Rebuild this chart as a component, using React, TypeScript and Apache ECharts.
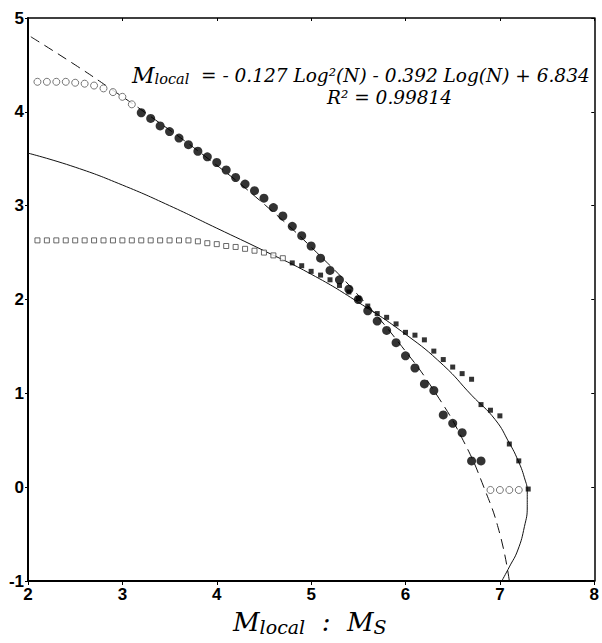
import React, { useEffect, useRef } from 'react';
import * as echarts from 'echarts';

// Filled circles (fitted data)
const filledCircles: [number, number][] = [
  [3.2, 3.99], [3.3, 3.93], [3.4, 3.85], [3.5, 3.79], [3.6, 3.72], [3.7, 3.65],
  [3.8, 3.58], [3.9, 3.52], [4.0, 3.46], [4.1, 3.38], [4.2, 3.30], [4.3, 3.23],
  [4.4, 3.16], [4.5, 3.08], [4.6, 2.98], [4.7, 2.89], [4.8, 2.78], [4.9, 2.68],
  [5.0, 2.57], [5.1, 2.44], [5.2, 2.31], [5.3, 2.21], [5.4, 2.11], [5.5, 2.00],
  [5.6, 1.88], [5.7, 1.77], [5.8, 1.67], [5.9, 1.54], [6.0, 1.40], [6.1, 1.27],
  [6.2, 1.10], [6.3, 1.03], [6.4, 0.77], [6.5, 0.68], [6.6, 0.58], [6.7, 0.28],
  [6.8, 0.28],
];

// Open circles, upper left
const upperOpenCircles: [number, number][] = [
  [2.1, 4.32], [2.2, 4.32], [2.3, 4.32], [2.4, 4.32], [2.5, 4.31], [2.6, 4.30],
  [2.7, 4.28], [2.8, 4.25], [2.9, 4.21], [3.0, 4.16], [3.1, 4.08],
];

// Open squares, lower plateau
const lowerOpenSquares: [number, number][] = [
  [2.1, 2.63], [2.2, 2.63], [2.3, 2.63], [2.4, 2.63], [2.5, 2.63], [2.6, 2.63],
  [2.7, 2.63], [2.8, 2.63], [2.9, 2.63], [3.0, 2.63], [3.1, 2.63], [3.2, 2.63],
  [3.3, 2.63], [3.4, 2.63], [3.5, 2.63], [3.6, 2.63], [3.7, 2.63], [3.8, 2.62],
  [3.9, 2.60], [4.0, 2.59], [4.1, 2.57], [4.2, 2.56], [4.3, 2.54], [4.4, 2.52],
  [4.5, 2.50], [4.6, 2.47], [4.7, 2.44],
];

// Small filled squares
const smallSquares: [number, number][] = [
  [4.8, 2.39], [4.9, 2.36], [5.0, 2.30], [5.1, 2.26], [5.2, 2.21], [5.3, 2.15],
  [5.4, 2.08], [5.5, 2.01], [5.6, 1.93], [5.7, 1.85], [5.8, 1.81], [5.9, 1.74],
  [6.0, 1.65], [6.1, 1.62], [6.2, 1.57], [6.3, 1.45], [6.4, 1.36], [6.5, 1.28],
  [6.6, 1.21], [6.7, 1.15], [6.8, 0.88], [6.9, 0.82], [7.0, 0.76], [7.1, 0.46],
  [7.2, 0.28], [7.3, -0.02],
];

// Open circles, lower right
const lowerOpenCircles: [number, number][] = [
  [6.9, -0.03], [7.0, -0.03], [7.1, -0.03], [7.2, -0.03],
];

// Fit curve: M = -0.127 L^2 - 0.392 L + 6.834
const fitCurveA: [number, number][] = [
  [2.03, 4.8], [2.50, 4.5], [2.87, 4.25], [3.23, 4.0], [3.91, 3.5], [4.52, 3.0],
  [5.06, 2.5], [5.54, 2.0], [5.96, 1.5], [6.32, 1.0], [6.61, 0.5], [6.83, 0.0],
  [7.00, -0.5], [7.10, -1.0],
];

// Second curve through the small squares
const fitCurveB: [number, number][] = [
  [2.0, 3.56], [2.5, 3.41], [3.0, 3.22], [3.5, 3.00], [4.0, 2.76], [4.5, 2.52],
  [5.0, 2.27], [5.5, 1.97], [6.0, 1.63], [6.4, 1.30], [6.7, 0.98], [6.95, 0.72],
  [7.1, 0.47], [7.19, 0.29], [7.26, 0.10], [7.29, -0.05], [7.29, -0.21],
  [7.26, -0.42], [7.19, -0.67], [7.10, -0.85], [7.02, -1.0],
];

const xRange = [2, 8];
const yRange = [-1, 5];

const serif = 'DejaVu Serif';
const sans = 'Liberation Sans';

export default function App() {
  const ref = useRef<HTMLDivElement>(null);

  useEffect(() => {
    if (!ref.current) return;
    const chart = echarts.init(ref.current, undefined, { renderer: 'svg' });

    const tickLabel = {
      color: '#000',
      fontFamily: sans,
      fontWeight: 'bold',
      fontSize: 17,
    };

    const eqBase = { fontFamily: serif, fontStyle: 'italic', fill: '#000' };

    const option: any = {
      animation: false,
      backgroundColor: '#fff',
      grid: { left: 28, right: 5, top: 18, bottom: 62, show: false },
      xAxis: [
        {
          type: 'value', min: xRange[0], max: xRange[1], interval: 1, position: 'bottom',
          axisLine: { show: true, onZero: false, lineStyle: { color: '#000', width: 2 } },
          axisTick: { show: true, inside: false, length: 4, lineStyle: { color: '#000', width: 1 } },
          axisLabel: { ...tickLabel, margin: 5 },
          splitLine: { show: false },
        },
        {
          type: 'value', min: xRange[0], max: xRange[1], interval: 1, position: 'top',
          axisLine: { show: true, onZero: false, lineStyle: { color: '#000', width: 1.5 } },
          axisTick: { show: true, inside: true, length: 3, lineStyle: { color: '#000', width: 1 } },
          axisLabel: { show: false },
          splitLine: { show: false },
        },
      ],
      yAxis: [
        {
          type: 'value', min: yRange[0], max: yRange[1], interval: 1, position: 'left',
          axisLine: { show: true, onZero: false, lineStyle: { color: '#000', width: 2 } },
          axisTick: { show: true, inside: false, length: 3, lineStyle: { color: '#000', width: 1 } },
          axisLabel: { ...tickLabel, margin: 4 },
          splitLine: { show: false },
        },
        {
          type: 'value', min: yRange[0], max: yRange[1], interval: 1, position: 'right',
          axisLine: { show: true, onZero: false, lineStyle: { color: '#000', width: 1.5 } },
          axisTick: { show: true, inside: true, length: 3, lineStyle: { color: '#000', width: 1 } },
          axisLabel: { show: false },
          splitLine: { show: false },
        },
      ],
      series: [
        {
          type: 'line', data: fitCurveA, showSymbol: false, smooth: true,
          lineStyle: { color: '#111', width: 1, type: [10, 6] }, z: 1,
        },
        {
          type: 'line', data: fitCurveB, showSymbol: false, smooth: true,
          lineStyle: { color: '#111', width: 1 }, z: 1,
        },
        {
          type: 'scatter', data: lowerOpenSquares, symbol: 'rect', symbolSize: [5, 5],
          itemStyle: { color: '#fff', borderColor: '#444', borderWidth: 1 }, z: 2,
        },
        {
          type: 'scatter', data: upperOpenCircles, symbol: 'circle', symbolSize: 7,
          itemStyle: { color: '#fff', borderColor: '#555', borderWidth: 1 }, z: 2,
        },
        {
          type: 'scatter', data: lowerOpenCircles, symbol: 'circle', symbolSize: 7,
          itemStyle: { color: '#fff', borderColor: '#555', borderWidth: 1 }, z: 2,
        },
        {
          type: 'scatter', data: smallSquares, symbol: 'rect', symbolSize: 5,
          itemStyle: { color: '#000' }, z: 3,
        },
        {
          type: 'scatter', data: filledCircles, symbol: 'circle', symbolSize: 9,
          itemStyle: { color: '#000' }, z: 3,
        },
      ],
      graphic: [
        {
          type: 'text', x: 132, y: 75, z: 10,
          style: {
            text: '{m|M}{sub|local}{t|  = - 0.127 Log²(N) - 0.392 Log(N) + 6.834}',
            align: 'left', textAlign: 'left', verticalAlign: 'middle', textVerticalAlign: 'middle',
            fill: '#000',
            rich: {
              m: { ...eqBase, fontSize: 22, lineHeight: 22, verticalAlign: 'middle' },
              t: { ...eqBase, fontSize: 18.5, lineHeight: 22, verticalAlign: 'middle' },
              sub: { ...eqBase, fontSize: 14.5, lineHeight: 4, verticalAlign: 'bottom' },
            },
          },
        },
        {
          type: 'text', x: 327, y: 97, z: 10,
          style: {
            text: 'R² = 0.99814',
            align: 'left', textAlign: 'left', verticalAlign: 'middle', textVerticalAlign: 'middle',
            fill: '#000', fontFamily: serif, fontStyle: 'italic', fontSize: 18.5,
            font: `italic 18.5px "${serif}"`,
          },
        },
        {
          type: 'text', x: 233, y: 622, z: 10,
          style: {
            text: '{m|M}{sub|local}{t|  :  M}{sub|S}',
            align: 'left', textAlign: 'left', verticalAlign: 'middle', textVerticalAlign: 'middle',
            fill: '#000',
            rich: {
              m: { ...eqBase, fontSize: 26, lineHeight: 28, verticalAlign: 'middle' },
              t: { ...eqBase, fontSize: 26, lineHeight: 28, verticalAlign: 'middle' },
              sub: { ...eqBase, fontSize: 19, lineHeight: 18, verticalAlign: 'bottom' },
            },
          },
        },
      ],
    };

    chart.setOption(option);
    return () => chart.dispose();
  }, []);

  return (
    <div
      ref={ref}
      style={{ position: 'absolute', left: 0, top: 0, width: 602, height: 643, background: '#fff' }}
    />
  );
}
